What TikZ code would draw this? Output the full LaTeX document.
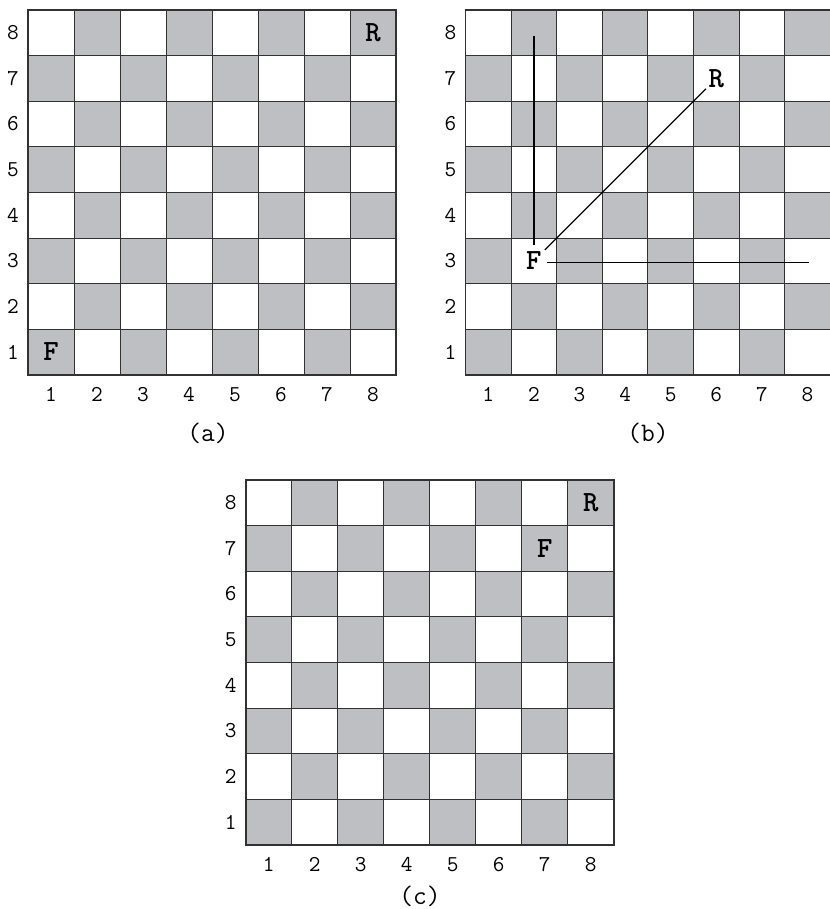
\documentclass[tikz,border=0pt]{standalone}
\usepackage{fontspec}
\definecolor{boardgray}{RGB}{190,191,194}
\definecolor{gridcol}{RGB}{50,50,50}
\tikzset{
  cell/.style={fill=boardgray},
  gridline/.style={draw=gridcol, line width=0.7pt},
  boardedge/.style={draw=gridcol, line width=1.2pt},
  lbl/.style={font=\fontsize{17}{17}\selectfont\ttfamily, inner sep=0pt},
  piece/.style={font=\fontsize{22}{22}\selectfont\ttfamily\bfseries, inner sep=0pt},
  captext/.style={font=\fontsize{20}{20}\selectfont\ttfamily, inner sep=0pt},
  move/.style={draw=black, line width=1pt},
}
\newcommand\mychessboard[5]{%
\begin{scope}[shift={(#2,#3)}]
  \foreach \c in {1,...,8}{\foreach \r in {1,...,8}{%
    \pgfmathtruncatemacro\myparity{mod(\c+\r,2)}%
    \ifnum\myparity=0
      \fill[cell] ({(\c-1)*#4},{(8-\r)*#5}) rectangle ++(#4,#5);
    \fi
    \coordinate (#1-\c-\r) at ({(\c-0.5)*#4},{(8-\r+0.5)*#5});
  }}
  \foreach \i in {1,...,7}{
    \draw[gridline] ({\i*#4},0) -- ({\i*#4},{8*#5});
    \draw[gridline] (0,{\i*#5}) -- ({8*#4},{\i*#5});
  }
  \draw[boardedge] (0,0) rectangle ({8*#4},{8*#5});
  \foreach \i in {1,...,8}{
    \node[lbl] (#1-col\i) at ({(\i-0.5)*#4},{8*#5+20}) {\i};
    \node[lbl] (#1-row\i) at (-15,{(8-\i+0.5)*#5}) {\i};
  }
\end{scope}}
\begin{document}
\begin{tikzpicture}[x=0.75pt,y=-0.75pt]
\useasboundingbox (0,0) rectangle (830,909);
\fill[white] (0,0) rectangle (830,909);
% board (a)
\mychessboard{a}{28}{10}{46}{45.6}
\node[piece] (aF) at (a-1-1) {F};
\node[piece] (aR) at (a-8-8) {R};
\node[captext] (acap) at (208,433) {(a)};
% board (b)
\mychessboard{b}{465.5}{10}{45.6}{45.6}
\node[piece] (bF) at (b-2-3) {F};
\node[piece] (bR) at (b-6-7) {R};
\draw[move, shorten <=11.5pt, shorten >=11pt] (bF.center) -- (bR.center);
\draw[move, shorten <=12pt, shorten >=2.4pt] (bF.center) -- (b-2-8);
\draw[move, shorten <=10pt, shorten >=-1.3pt] ([yshift=-1.5pt]bF.center) -- ([yshift=-1.5pt]b-8-3);
\node[captext] (bcap) at (648,433) {(b)};
% board (c)
\mychessboard{c}{245.7}{480}{46}{45.6}
\node[piece] (cF) at (c-7-7) {F};
\node[piece] (cR) at (c-8-8) {R};
\node[captext] (ccap) at (420,896.5) {(c)};
\end{tikzpicture}
\end{document}
